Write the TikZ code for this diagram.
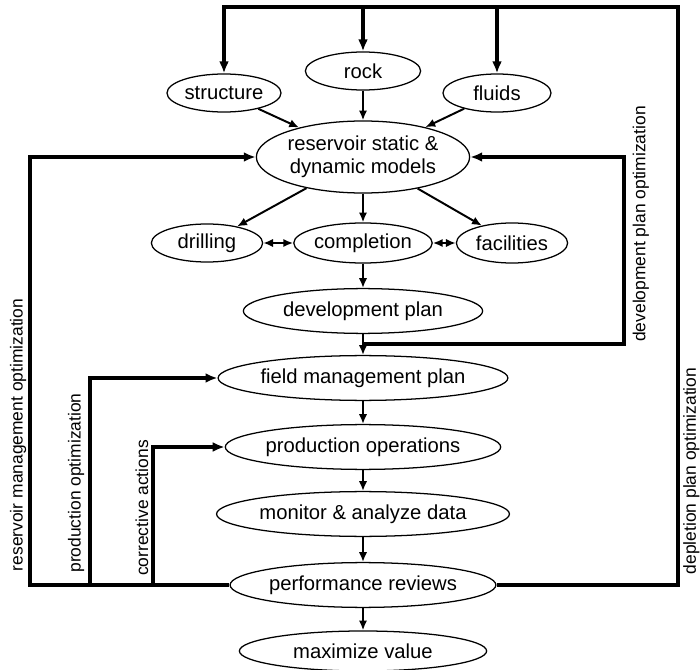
\documentclass[tikz,border=0pt]{standalone}
\usepackage{fontspec}
\setmainfont{Liberation Sans}
\usetikzlibrary{shapes.geometric, arrows.meta, positioning}
\tikzset{
  stage/.style={ellipse, draw, line width=0.9pt, inner sep=0pt,
    minimum height=1.12cm, font=\fontsize{14.4}{16}\selectfont},
  smallstage/.style={stage, minimum height=0.95cm},
  flow/.style={line width=1.4pt, -{Latex[length=7pt, width=6pt]}},
  twoway/.style={line width=1.4pt, {Latex[length=7pt, width=6pt]}-{Latex[length=7pt, width=6pt]}},
  backline/.style={line width=2.2pt},
  backarrow/.style={backline, -{Latex[length=8.5pt, width=7pt]}},
  sidelabel/.style={rotate=90, inner sep=1pt, font=\fontsize{12.4}{14}\selectfont},
}

\begin{document}
\begin{tikzpicture}[x=0.025cm, y=-0.025cm]
\useasboundingbox (0,0) rectangle (700,670);

% geology inputs
\node[smallstage, minimum width=2.85cm] (structure) at (224,93) {structure};
\node[smallstage, minimum width=2.88cm] (rock) at (363,71) {rock};
\node[smallstage, minimum width=2.7cm] (fluids) at (497,93) {fluids};

% reservoir model
\node[stage, minimum width=4.65cm, minimum height=1.8cm, align=center] (model) at (363,157)
  {reservoir static \&\\dynamic models};

% engineering
\node[smallstage, minimum width=2.78cm] (drilling) at (207,243) {drilling};
\node[smallstage, minimum width=3.15cm, minimum height=1.0cm] (completion) at (363,243) {completion};
\node[smallstage, minimum width=2.78cm, minimum height=1.0cm] (facilities) at (512,243) {facilities};

% plans and operations
\node[stage, minimum width=5.98cm] (devplan) at (363,311) {development plan};
\node[stage, minimum width=6.15cm] (fieldplan) at (363,378) {field management plan};
\node[stage, minimum width=6.18cm] (operations) at (363,447) {production operations};
\node[stage, minimum width=6.15cm] (monitor) at (363,514) {monitor \& analyze data};
\node[stage, minimum width=6.18cm] (reviews) at (363,585) {performance reviews};
\node[stage, minimum width=6.18cm, minimum height=1.0cm] (value) at (363,651) {maximize value};

% forward flow
\foreach \a/\b in {structure/model, rock/model, fluids/model,
    model/drilling, model/completion, model/facilities,
    completion/devplan, devplan/fieldplan, fieldplan/operations,
    operations/monitor, monitor/reviews, reviews/value}
  \draw[flow] (\a) -- (\b);
\draw[twoway] (drilling) -- (completion);
\draw[twoway] (completion) -- (facilities);

% feedback loops
\coordinate (topright) at (678,7);
\coordinate (leftmost) at (30,585);
\coordinate (prodx) at (90,585);
\coordinate (corrx) at (153,585);
\coordinate (split) at (363,344);
\coordinate (devx) at (624,344);

% depletion plan optimization
\draw[backarrow] (reviews.east) -| (topright) -| (structure.north);
\foreach \n in {rock, fluids}
  \draw[backarrow] (\n.north |- topright) -- (\n.north);
% reservoir management optimization
\draw[backarrow] (reviews.west) -- (leftmost) |- (model.west);
% production optimization
\draw[backarrow] (prodx) |- (fieldplan.west);
% corrective actions
\draw[backarrow] (corrx) |- (operations.west);
% development plan optimization
\draw[backarrow] (split) -- (devx) |- (model.east);

% loop labels
\node[sidelabel, anchor=south] (rmolabel) at (28,435) {reservoir management optimization};
\node[sidelabel, anchor=south] (polabel) at (86,483) {production optimization};
\node[sidelabel, anchor=south] (calabel) at (150,508) {corrective actions};
\node[sidelabel, anchor=north] (dpolabel) at (631,224) {development plan optimization};
\node[sidelabel, anchor=north, inner sep=0pt] (deplabel) at (683,471) {depletion plan optimization};

\end{tikzpicture}
\end{document}
